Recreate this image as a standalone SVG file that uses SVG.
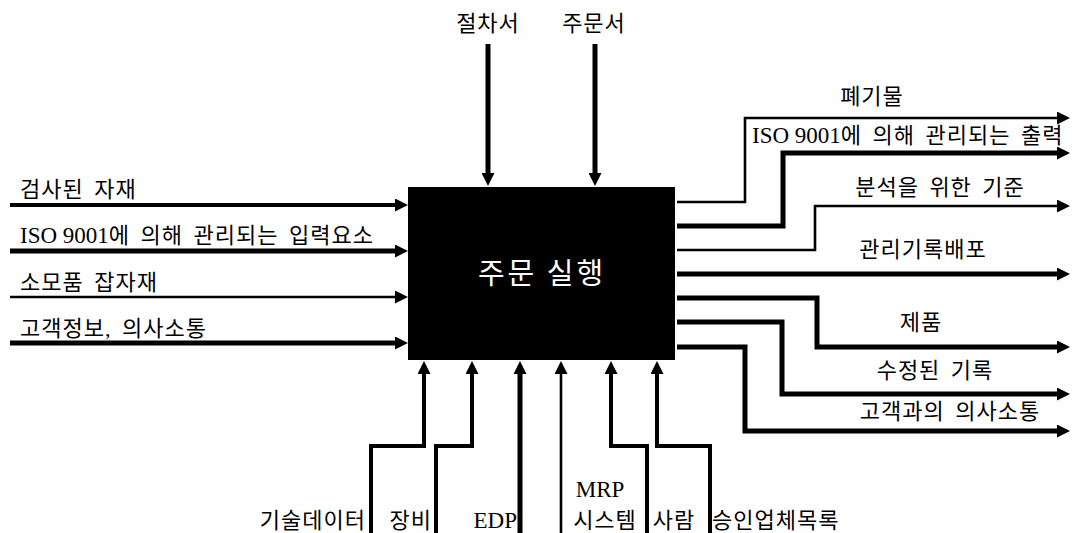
<svg xmlns="http://www.w3.org/2000/svg" width="1072" height="533" viewBox="0 0 1072 533">
<style>
.bg{fill:#fff}
.c{fill:none;stroke:#000;stroke-linejoin:miter}
.k{stroke-width:5}
.t{stroke-width:2.6}
.m{stroke-width:4}
.lbl{font-family:"Liberation Serif","Noto Sans CJK KR",serif;font-size:22px;letter-spacing:1px;word-spacing:4px;fill:#000}
.lat{font-size:23px;letter-spacing:0;word-spacing:0}
.ctr{font-family:"Noto Sans CJK KR","Noto Sans",sans-serif;font-size:29px;letter-spacing:3px;fill:#fff}
</style>
<defs>
<marker id="ah" viewBox="0 0 13 13" markerWidth="13" markerHeight="13" refX="5" refY="6.5" orient="auto" markerUnits="userSpaceOnUse">
<path d="M0,0 L13,6.5 L0,13 z" fill="#000"/>
</marker>
</defs>
<rect class="bg" width="1072" height="533"/>
<g id="connectors">
<path class="c m" d="M10,205 H400" marker-end="url(#ah)"/>
<path class="c k" d="M10,251 H400" marker-end="url(#ah)"/>
<path class="c t" d="M10,297 H400" marker-end="url(#ah)"/>
<path class="c k" d="M10,343 H400" marker-end="url(#ah)"/>
<path class="c k" d="M488,44 V178" marker-end="url(#ah)"/>
<path class="c k" d="M595,44 V178" marker-end="url(#ah)"/>
<path class="c t" d="M677,202 H745 V118 H1062" marker-end="url(#ah)"/>
<path class="c k" d="M677,226 H783 V153 H1062" marker-end="url(#ah)"/>
<path class="c t" d="M677,250 H815 V206 H1062" marker-end="url(#ah)"/>
<path class="c k" d="M677,274 H1062" marker-end="url(#ah)"/>
<path class="c k" d="M677,298 H817 V347 H1062" marker-end="url(#ah)"/>
<path class="c k" d="M677,322 H782 V394 H1062" marker-end="url(#ah)"/>
<path class="c k" d="M677,347 H745 V431 H1062" marker-end="url(#ah)"/>
<path class="c m" d="M371,533 V446 H424 V369" stroke-linejoin="round" marker-end="url(#ah)"/>
<path class="c m" d="M436,533 V446 H472 V369" stroke-linejoin="round" marker-end="url(#ah)"/>
<path class="c k" d="M520,533 V369" marker-end="url(#ah)"/>
<path class="c t" d="M561,533 V369" marker-end="url(#ah)"/>
<path class="c m" d="M647,533 V446 H611 V369" stroke-linejoin="round" marker-end="url(#ah)"/>
<path class="c m" d="M710,533 V446 H657 V369" stroke-linejoin="round" marker-end="url(#ah)"/>
</g>
<g id="node-main">
<rect x="408" y="187" width="267" height="173" fill="#000"/>
<text class="ctr" x="542" y="284" text-anchor="middle">주문 실행</text>
</g>
<g id="labels">
<text class="lbl" x="20" y="197">검사된 자재</text>
<text class="lbl" x="20" y="243"><tspan class="lat">ISO 9001</tspan>에 의해 관리되는 입력요소</text>
<text class="lbl" x="20" y="290">소모품 잡자재</text>
<text class="lbl" x="20" y="336">고객정보, 의사소통</text>
<text class="lbl" x="488" y="31" text-anchor="middle">절차서</text>
<text class="lbl" x="594" y="31" text-anchor="middle">주문서</text>
<text class="lbl" x="872" y="104" text-anchor="middle">폐기물</text>
<text class="lbl" x="752" y="143"><tspan class="lat">ISO 9001</tspan>에 의해 관리되는 출력</text>
<text class="lbl" x="940" y="195" text-anchor="middle">분석을 위한 기준</text>
<text class="lbl" x="923" y="257" text-anchor="middle">관리기록배포</text>
<text class="lbl" x="921" y="330" text-anchor="middle">제품</text>
<text class="lbl" x="935" y="378" text-anchor="middle">수정된 기록</text>
<text class="lbl" x="950" y="419" text-anchor="middle">고객과의 의사소통</text>
<text class="lbl" x="366" y="528" text-anchor="end">기술데이터</text>
<text class="lbl" x="432" y="528" text-anchor="end">장비</text>
<text class="lbl lat" x="517" y="528" text-anchor="end">EDP</text>
<text class="lbl lat" x="600" y="497" text-anchor="middle">MRP</text>
<text class="lbl" x="605" y="528" text-anchor="middle">시스템</text>
<text class="lbl" x="674" y="528" text-anchor="middle">사람</text>
<text class="lbl" x="712" y="528">승인업체목록</text>
</g>
</svg>
